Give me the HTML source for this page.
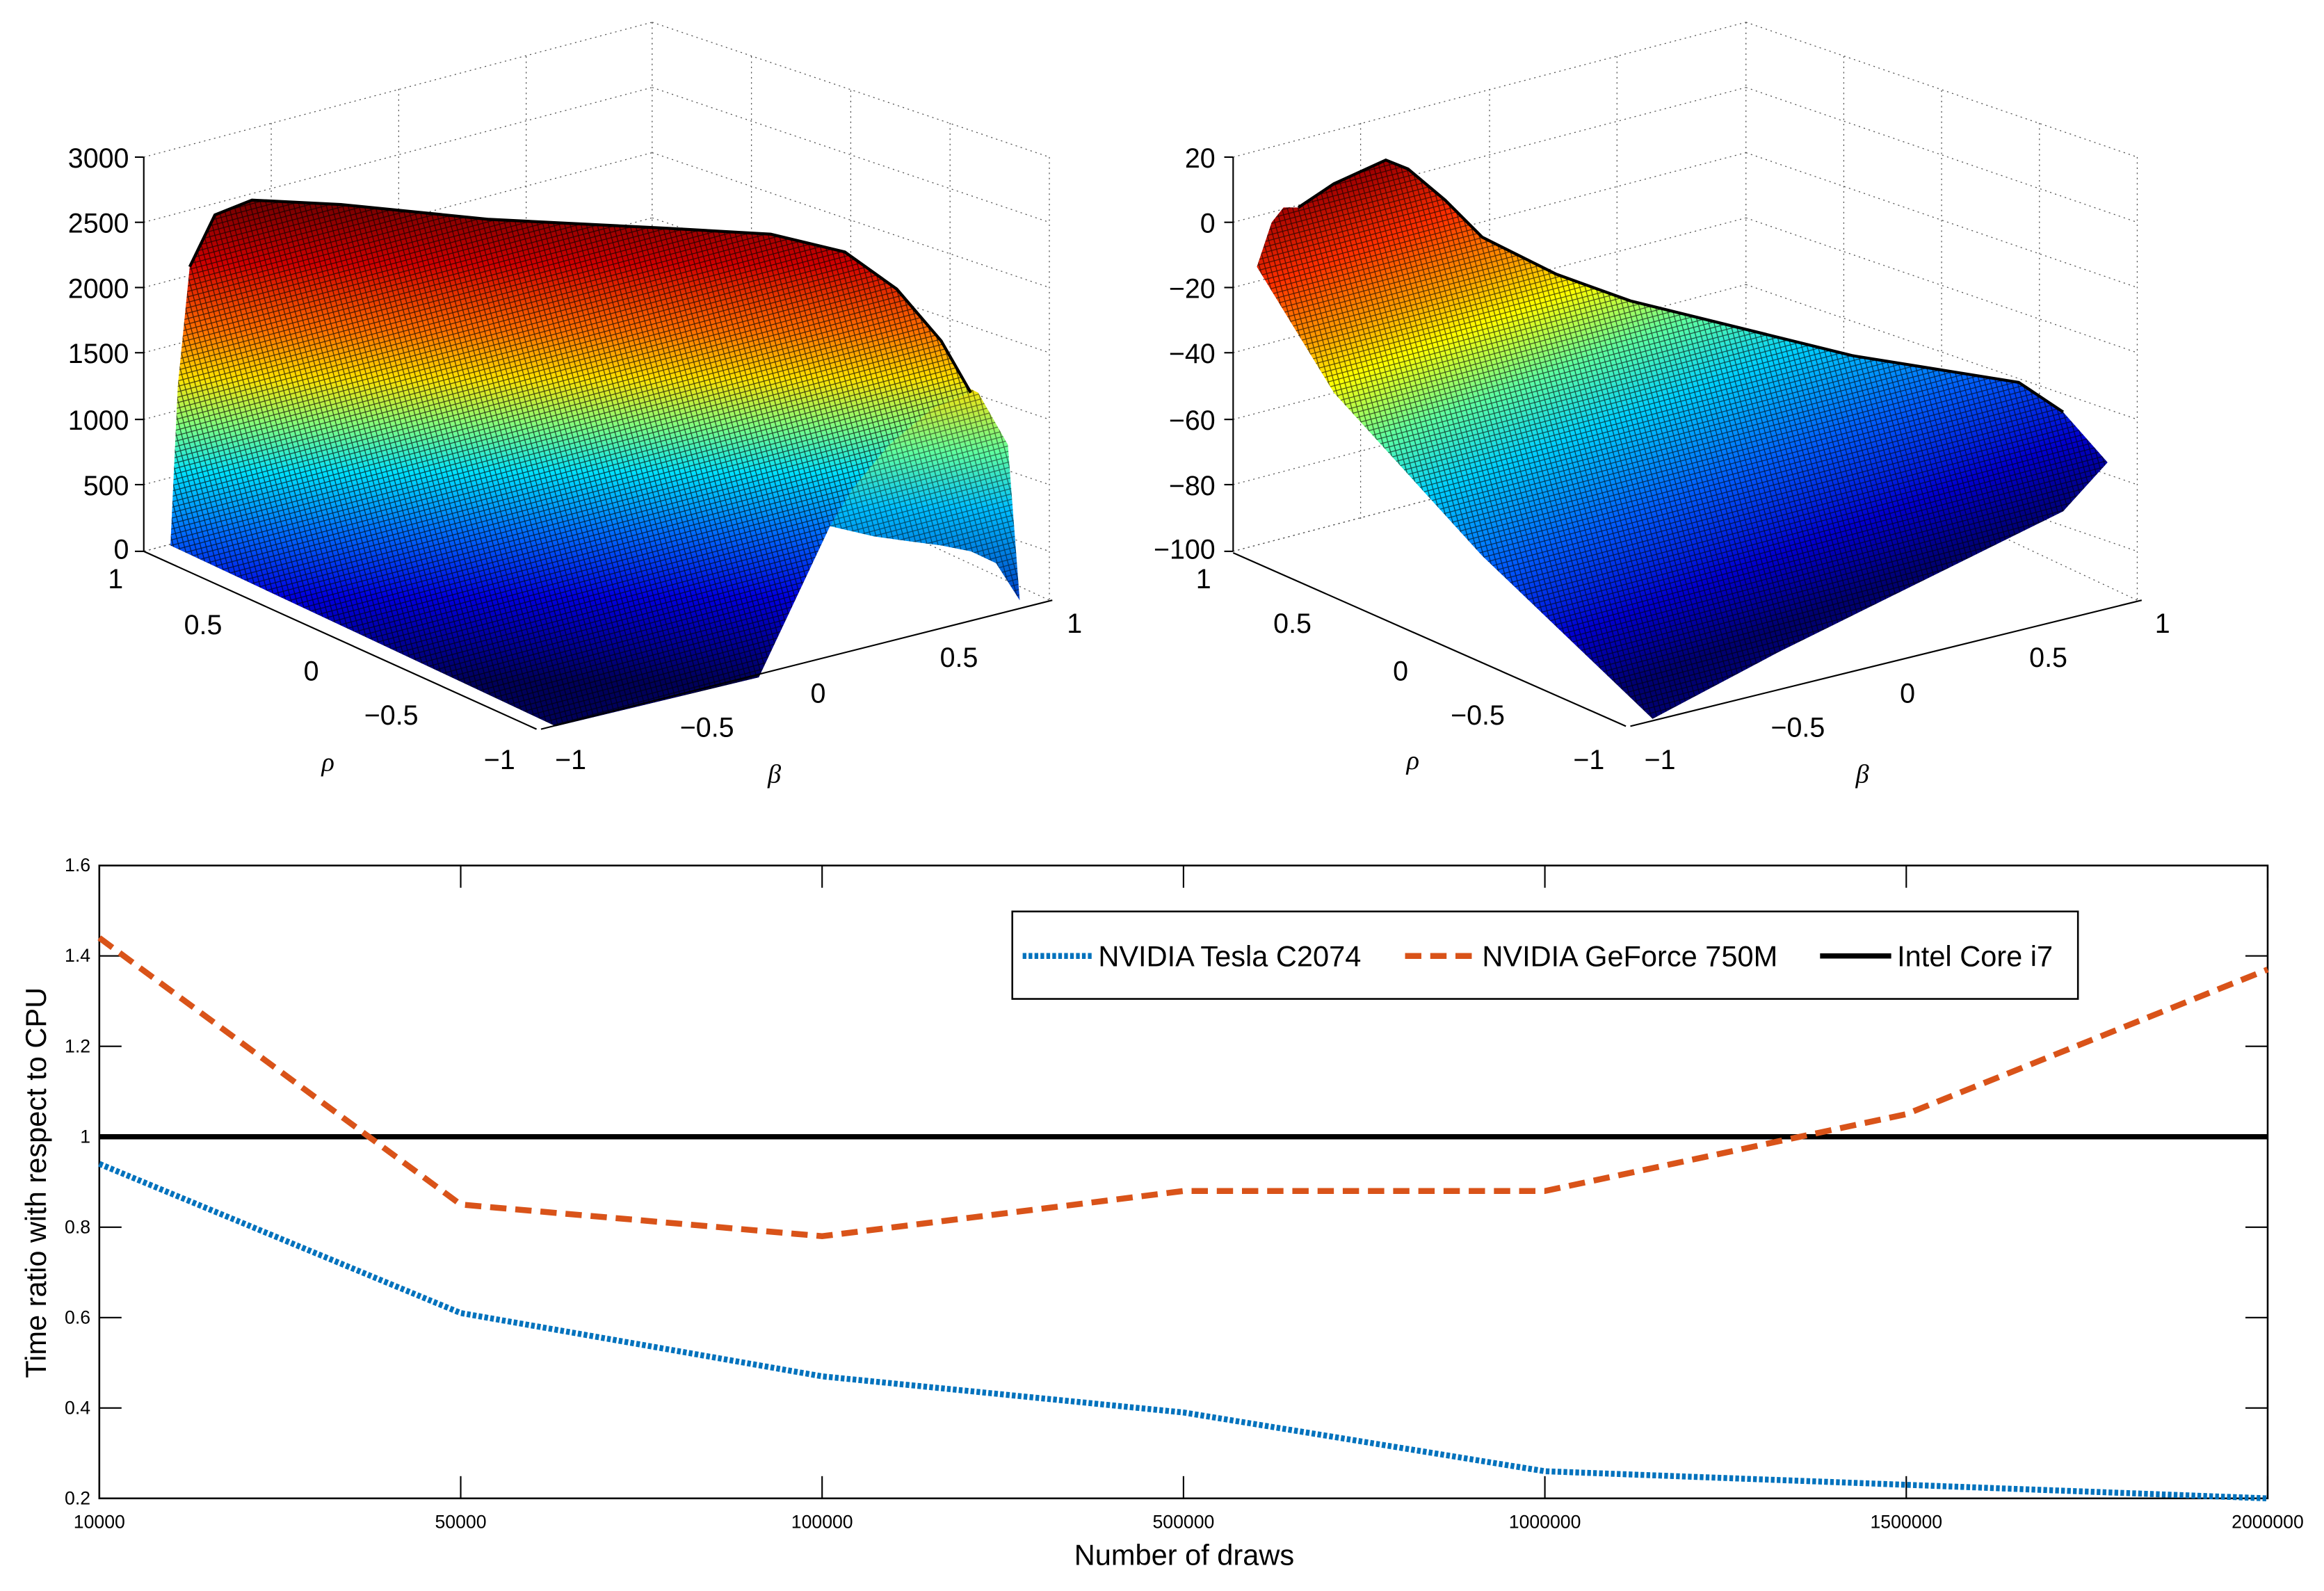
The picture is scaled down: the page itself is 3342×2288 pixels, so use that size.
<!DOCTYPE html>
<html><head><meta charset="utf-8"><style>
html,body{margin:0;padding:0;background:#fff;}
svg{display:block;font-family:"Liberation Sans",sans-serif;}
</style></head><body>
<svg id="fig" width="3342" height="2288" viewBox="0 0 1568 1073.5" xmlns="http://www.w3.org/2000/svg">
<defs>
<linearGradient id="jetL" x1="0" y1="140" x2="0" y2="460" gradientUnits="userSpaceOnUse">
<stop offset="0" stop-color="#7a0000"/><stop offset="0.12" stop-color="#d00000"/><stop offset="0.26" stop-color="#ff7000"/><stop offset="0.36" stop-color="#ffe000"/><stop offset="0.46" stop-color="#80ff80"/><stop offset="0.56" stop-color="#00e0ff"/><stop offset="0.68" stop-color="#0070ff"/><stop offset="0.82" stop-color="#0000e0"/><stop offset="1" stop-color="#00005a"/>
</linearGradient>
<linearGradient id="jetR" x1="940" y1="110" x2="1080" y2="470" gradientUnits="userSpaceOnUse">
<stop offset="0" stop-color="#a00000"/><stop offset="0.12" stop-color="#ff3000"/><stop offset="0.24" stop-color="#ffa000"/><stop offset="0.32" stop-color="#ffff00"/><stop offset="0.44" stop-color="#60ffa0"/><stop offset="0.56" stop-color="#00d0ff"/><stop offset="0.72" stop-color="#0060ff"/><stop offset="0.88" stop-color="#0000d0"/><stop offset="1" stop-color="#000070"/>
</linearGradient>
<linearGradient id="hump" x1="0" y1="260" x2="0" y2="410" gradientUnits="userSpaceOnUse">
<stop offset="0" stop-color="#ffe000"/><stop offset="0.3" stop-color="#60ffa0"/><stop offset="0.55" stop-color="#00c0ff"/><stop offset="1" stop-color="#0030c0"/>
</linearGradient>
<pattern id="mesh" width="5" height="5" patternUnits="userSpaceOnUse" patternTransform="rotate(30)">
<path d="M0 0 L5 5 M5 0 L0 5" stroke="#000" stroke-width="0.55" opacity="0.8"/>
</pattern>
</defs>

<!-- LEFT 3D -->
<g>
<g stroke="#555" stroke-width="0.6" stroke-dasharray="1,2.5" fill="none">
<line x1="97" y1="106" x2="440" y2="15"/><line x1="97" y1="150" x2="440" y2="59"/><line x1="97" y1="194" x2="440" y2="103"/><line x1="97" y1="238" x2="440" y2="147"/><line x1="97" y1="283" x2="440" y2="192"/><line x1="97" y1="327" x2="440" y2="236"/><line x1="97" y1="372" x2="440" y2="281"/>
<line x1="440" y1="15" x2="708" y2="106"/><line x1="440" y1="59" x2="708" y2="150"/><line x1="440" y1="103" x2="708" y2="194"/><line x1="440" y1="147" x2="708" y2="238"/><line x1="440" y1="192" x2="708" y2="283"/><line x1="440" y1="236" x2="708" y2="327"/><line x1="440" y1="281" x2="708" y2="372"/>
<line x1="440" y1="15" x2="440" y2="281"/><line x1="708" y1="106" x2="708" y2="405"/>
<line x1="183" y1="83" x2="183" y2="350"/><line x1="269" y1="60" x2="269" y2="327"/><line x1="355" y1="38" x2="355" y2="304"/>
<line x1="507" y1="38" x2="507" y2="304"/><line x1="574" y1="61" x2="574" y2="327"/><line x1="641" y1="83" x2="641" y2="350"/>
<line x1="440" y1="281" x2="708" y2="405"/><line x1="440" y1="281" x2="97" y2="372"/>
</g>
<path d="M115 368 L375 490 L512 457 L300 400 Z" fill="#06063a"/>
<path d="M560 355 L585 300 L610 268 L640 255 L660 265 L680 300 L688 405 L672 380 L655 372 L635 368 L612 365 L590 362 Z" fill="url(#hump)"/>
<path d="M560 355 L585 300 L610 268 L640 255 L660 265 L680 300 L688 405 L672 380 L655 372 L635 368 L612 365 L590 362 Z" fill="url(#mesh)" opacity="0.7"/>
<path d="M115 368 L120 260 L128 180 L145 145 L170 135 L230 138 L330 148 L450 154 L520 158 L570 170 L605 195 L635 230 L655 265 L630 275 L600 300 L575 330 L560 355 L512 457 L375 490 Z" fill="url(#jetL)"/>
<path d="M115 368 L120 260 L128 180 L145 145 L170 135 L230 138 L330 148 L450 154 L520 158 L570 170 L605 195 L635 230 L655 265 L630 275 L600 300 L575 330 L560 355 L512 457 L375 490 Z" fill="url(#mesh)" opacity="0.9"/>
<path d="M128 180 L145 145 L170 135 L230 138 L330 148 L450 154 L520 158 L570 170 L605 195 L635 230 L655 265" fill="none" stroke="#000" stroke-width="2"/>
<g stroke="#000" stroke-width="1" fill="none">
<line x1="97" y1="106" x2="97" y2="372"/><line x1="97" y1="372" x2="362" y2="492"/><line x1="365" y1="492" x2="710" y2="405"/>
<line x1="91" y1="106" x2="97" y2="106"/><line x1="91" y1="150" x2="97" y2="150"/><line x1="91" y1="194" x2="97" y2="194"/><line x1="91" y1="238" x2="97" y2="238"/><line x1="91" y1="283" x2="97" y2="283"/><line x1="91" y1="327" x2="97" y2="327"/><line x1="91" y1="372" x2="97" y2="372"/>
</g>
<g font-size="18.5" text-anchor="end" fill="#000">
<text x="87" y="113">3000</text><text x="87" y="157">2500</text><text x="87" y="201">2000</text><text x="87" y="245">1500</text><text x="87" y="290">1000</text><text x="87" y="334">500</text><text x="87" y="377">0</text>
</g>
<g font-size="18.5" text-anchor="middle" fill="#000">
<text x="78" y="397">1</text><text x="137" y="428">0.5</text><text x="210" y="459">0</text><text x="264" y="489">−0.5</text><text x="337" y="519">−1</text>
<text x="385" y="519">−1</text><text x="477" y="497">−0.5</text><text x="552" y="474">0</text><text x="647" y="450">0.5</text><text x="725" y="427">1</text>
</g>
<text x="217" y="520" font-size="18" font-style="italic" font-family="Liberation Serif,serif">ρ</text>
<text x="518" y="528" font-size="18" font-style="italic" font-family="Liberation Serif,serif">β</text>
</g>

<!-- RIGHT 3D -->
<g>
<g stroke="#555" stroke-width="0.6" stroke-dasharray="1,2.5" fill="none">
<line x1="832" y1="106" x2="1178" y2="15"/><line x1="832" y1="150" x2="1178" y2="59"/><line x1="832" y1="194" x2="1178" y2="103"/><line x1="832" y1="238" x2="1178" y2="147"/><line x1="832" y1="283" x2="1178" y2="192"/><line x1="832" y1="327" x2="1178" y2="236"/><line x1="832" y1="372" x2="1178" y2="281"/>
<line x1="1178" y1="15" x2="1442" y2="106"/><line x1="1178" y1="59" x2="1442" y2="150"/><line x1="1178" y1="103" x2="1442" y2="194"/><line x1="1178" y1="147" x2="1442" y2="238"/><line x1="1178" y1="192" x2="1442" y2="283"/><line x1="1178" y1="236" x2="1442" y2="327"/><line x1="1178" y1="281" x2="1442" y2="372"/>
<line x1="1178" y1="15" x2="1178" y2="281"/><line x1="1442" y1="106" x2="1442" y2="405"/>
<line x1="918" y1="83" x2="918" y2="350"/><line x1="1005" y1="60" x2="1005" y2="327"/><line x1="1091" y1="38" x2="1091" y2="304"/>
<line x1="1244" y1="38" x2="1244" y2="304"/><line x1="1310" y1="61" x2="1310" y2="327"/><line x1="1376" y1="83" x2="1376" y2="350"/>
<line x1="1178" y1="281" x2="1442" y2="405"/><line x1="1178" y1="281" x2="832" y2="372"/>
</g>
<path d="M848 180 L858 150 L866 140 L876 140 L900 124 L935 108 L950 114 L975 135 L1000 160 L1050 185 L1100 203 L1250 240 L1362 258 L1392 278 L1422 312 L1392 345 L1200 440 L1115 485 L1000 375 L900 265 Z" fill="url(#jetR)"/>
<path d="M848 180 L858 150 L866 140 L876 140 L900 124 L935 108 L950 114 L975 135 L1000 160 L1050 185 L1100 203 L1250 240 L1362 258 L1392 278 L1422 312 L1392 345 L1200 440 L1115 485 L1000 375 L900 265 Z" fill="url(#mesh)" opacity="0.85"/>
<path d="M876 140 L900 124 L935 108 L950 114 L975 135 L1000 160 L1050 185 L1100 203 L1250 240 L1362 258 L1392 278" fill="none" stroke="#000" stroke-width="2"/>
<g stroke="#000" stroke-width="1" fill="none">
<line x1="832" y1="106" x2="832" y2="372"/><line x1="832" y1="373" x2="1097" y2="490"/><line x1="1100" y1="490" x2="1445" y2="405"/>
<line x1="826" y1="106" x2="832" y2="106"/><line x1="826" y1="150" x2="832" y2="150"/><line x1="826" y1="194" x2="832" y2="194"/><line x1="826" y1="238" x2="832" y2="238"/><line x1="826" y1="283" x2="832" y2="283"/><line x1="826" y1="327" x2="832" y2="327"/><line x1="826" y1="372" x2="832" y2="372"/>
</g>
<g font-size="18.5" text-anchor="end" fill="#000">
<text x="820" y="113">20</text><text x="820" y="157">0</text><text x="820" y="201">−20</text><text x="820" y="245">−40</text><text x="820" y="290">−60</text><text x="820" y="334">−80</text><text x="820" y="377">−100</text>
</g>
<g font-size="18.5" text-anchor="middle" fill="#000">
<text x="812" y="397">1</text><text x="872" y="427">0.5</text><text x="945" y="459">0</text><text x="997" y="489">−0.5</text><text x="1072" y="519">−1</text>
<text x="1120" y="519">−1</text><text x="1213" y="497">−0.5</text><text x="1287" y="474">0</text><text x="1382" y="450">0.5</text><text x="1459" y="427">1</text>
</g>
<text x="949" y="519" font-size="18" font-style="italic" font-family="Liberation Serif,serif">ρ</text>
<text x="1252" y="528" font-size="18" font-style="italic" font-family="Liberation Serif,serif">β</text>
</g>

<!-- BOTTOM LINE CHART -->
<g id="lineChart"></g>
<text x="31" y="798" font-size="19.5" text-anchor="middle" transform="rotate(-90 31 798)">Time ratio with respect to CPU</text>
<text x="799" y="1056" font-size="19.5" text-anchor="middle">Number of draws</text>
<g>
<rect x="683" y="615" width="719" height="59" fill="#fff" stroke="#000" stroke-width="1.2"/>
<line x1="690" y1="645" x2="738" y2="645" stroke="#0072bd" stroke-width="4" stroke-dasharray="2.5,1.5"/>
<text x="741" y="652" font-size="19.5">NVIDIA Tesla C2074</text>
<line x1="948" y1="645" x2="996" y2="645" stroke="#d95319" stroke-width="4" stroke-dasharray="11,6"/>
<text x="1000" y="652" font-size="19.5">NVIDIA GeForce 750M</text>
<line x1="1228" y1="645" x2="1276" y2="645" stroke="#000" stroke-width="3.5"/>
<text x="1280" y="652" font-size="19.5">Intel Core i7</text>
</g>
</svg>
<script>
const categories = ["10000","50000","100000","500000","1000000","1500000","2000000"];
const teslaValues = [0.94, 0.61, 0.47, 0.39, 0.26, 0.23, 0.20];
const geforceValues = [1.44, 0.85, 0.78, 0.88, 0.88, 1.05, 1.37];
const cpuValues = [1, 1, 1, 1, 1, 1, 1];
const yTicks = [0.2, 0.4, 0.6, 0.8, 1, 1.2, 1.4, 1.6];
const yTickLabels = ["0.2","0.4","0.6","0.8","1","1.2","1.4","1.6"];

const NS = "http://www.w3.org/2000/svg";
const X0 = 67, X1 = 1530, YT = 584, YB = 1011, YMIN = 0.2, YMAX = 1.6;
function xPos(i){ return X0 + (X1 - X0) * i / (categories.length - 1); }
function yPos(v){ return YB - (v - YMIN) / (YMAX - YMIN) * (YB - YT); }
const g = document.getElementById('lineChart');
function mk(tag, attrs){ const e = document.createElementNS(NS, tag); for (const k in attrs) e.setAttribute(k, attrs[k]); g.appendChild(e); return e; }

const frame = mk('rect', {x:X0, y:YT, width:X1-X0, height:YB-YT, fill:'none', stroke:'#000', 'stroke-width':1.2});



categories.forEach((c, i) => {
  const x = xPos(i);
  const t1 = mk('line', {x1:x, y1:YB, x2:x, y2:YB-15, stroke:'#000', 'stroke-width':1});
  
  
  const t2 = mk('line', {x1:x, y1:YT, x2:x, y2:YT+15, stroke:'#000', 'stroke-width':1});
  
  
  const lb = mk('text', {x:x, y:YB+20, 'font-size':12.5, 'text-anchor':'middle'});
  lb.textContent = c;
  
  
});
yTicks.forEach((v, i) => {
  const y = yPos(v);
  const t1 = mk('line', {x1:X0, y1:y, x2:X0+15, y2:y, stroke:'#000', 'stroke-width':1});
  
  
  const t2 = mk('line', {x1:X1, y1:y, x2:X1-15, y2:y, stroke:'#000', 'stroke-width':1});
  
  
  const lb = mk('text', {x:X0-6, y:y+4, 'font-size':12.5, 'text-anchor':'end'});
  lb.textContent = yTickLabels[i];
  
  
});
function pts(vals){ return vals.map((v,i)=> xPos(i)+','+yPos(v)).join(' '); }
const cpu = mk('polyline', {points:pts(cpuValues), fill:'none', stroke:'#000', 'stroke-width':3.5});


const gf = mk('polyline', {points:pts(geforceValues), fill:'none', stroke:'#d95319', 'stroke-width':4, 'stroke-dasharray':'11,6'});


const ts = mk('polyline', {points:pts(teslaValues), fill:'none', stroke:'#0072bd', 'stroke-width':4, 'stroke-dasharray':'2.5,1.5'});


</script>
</body></html>
